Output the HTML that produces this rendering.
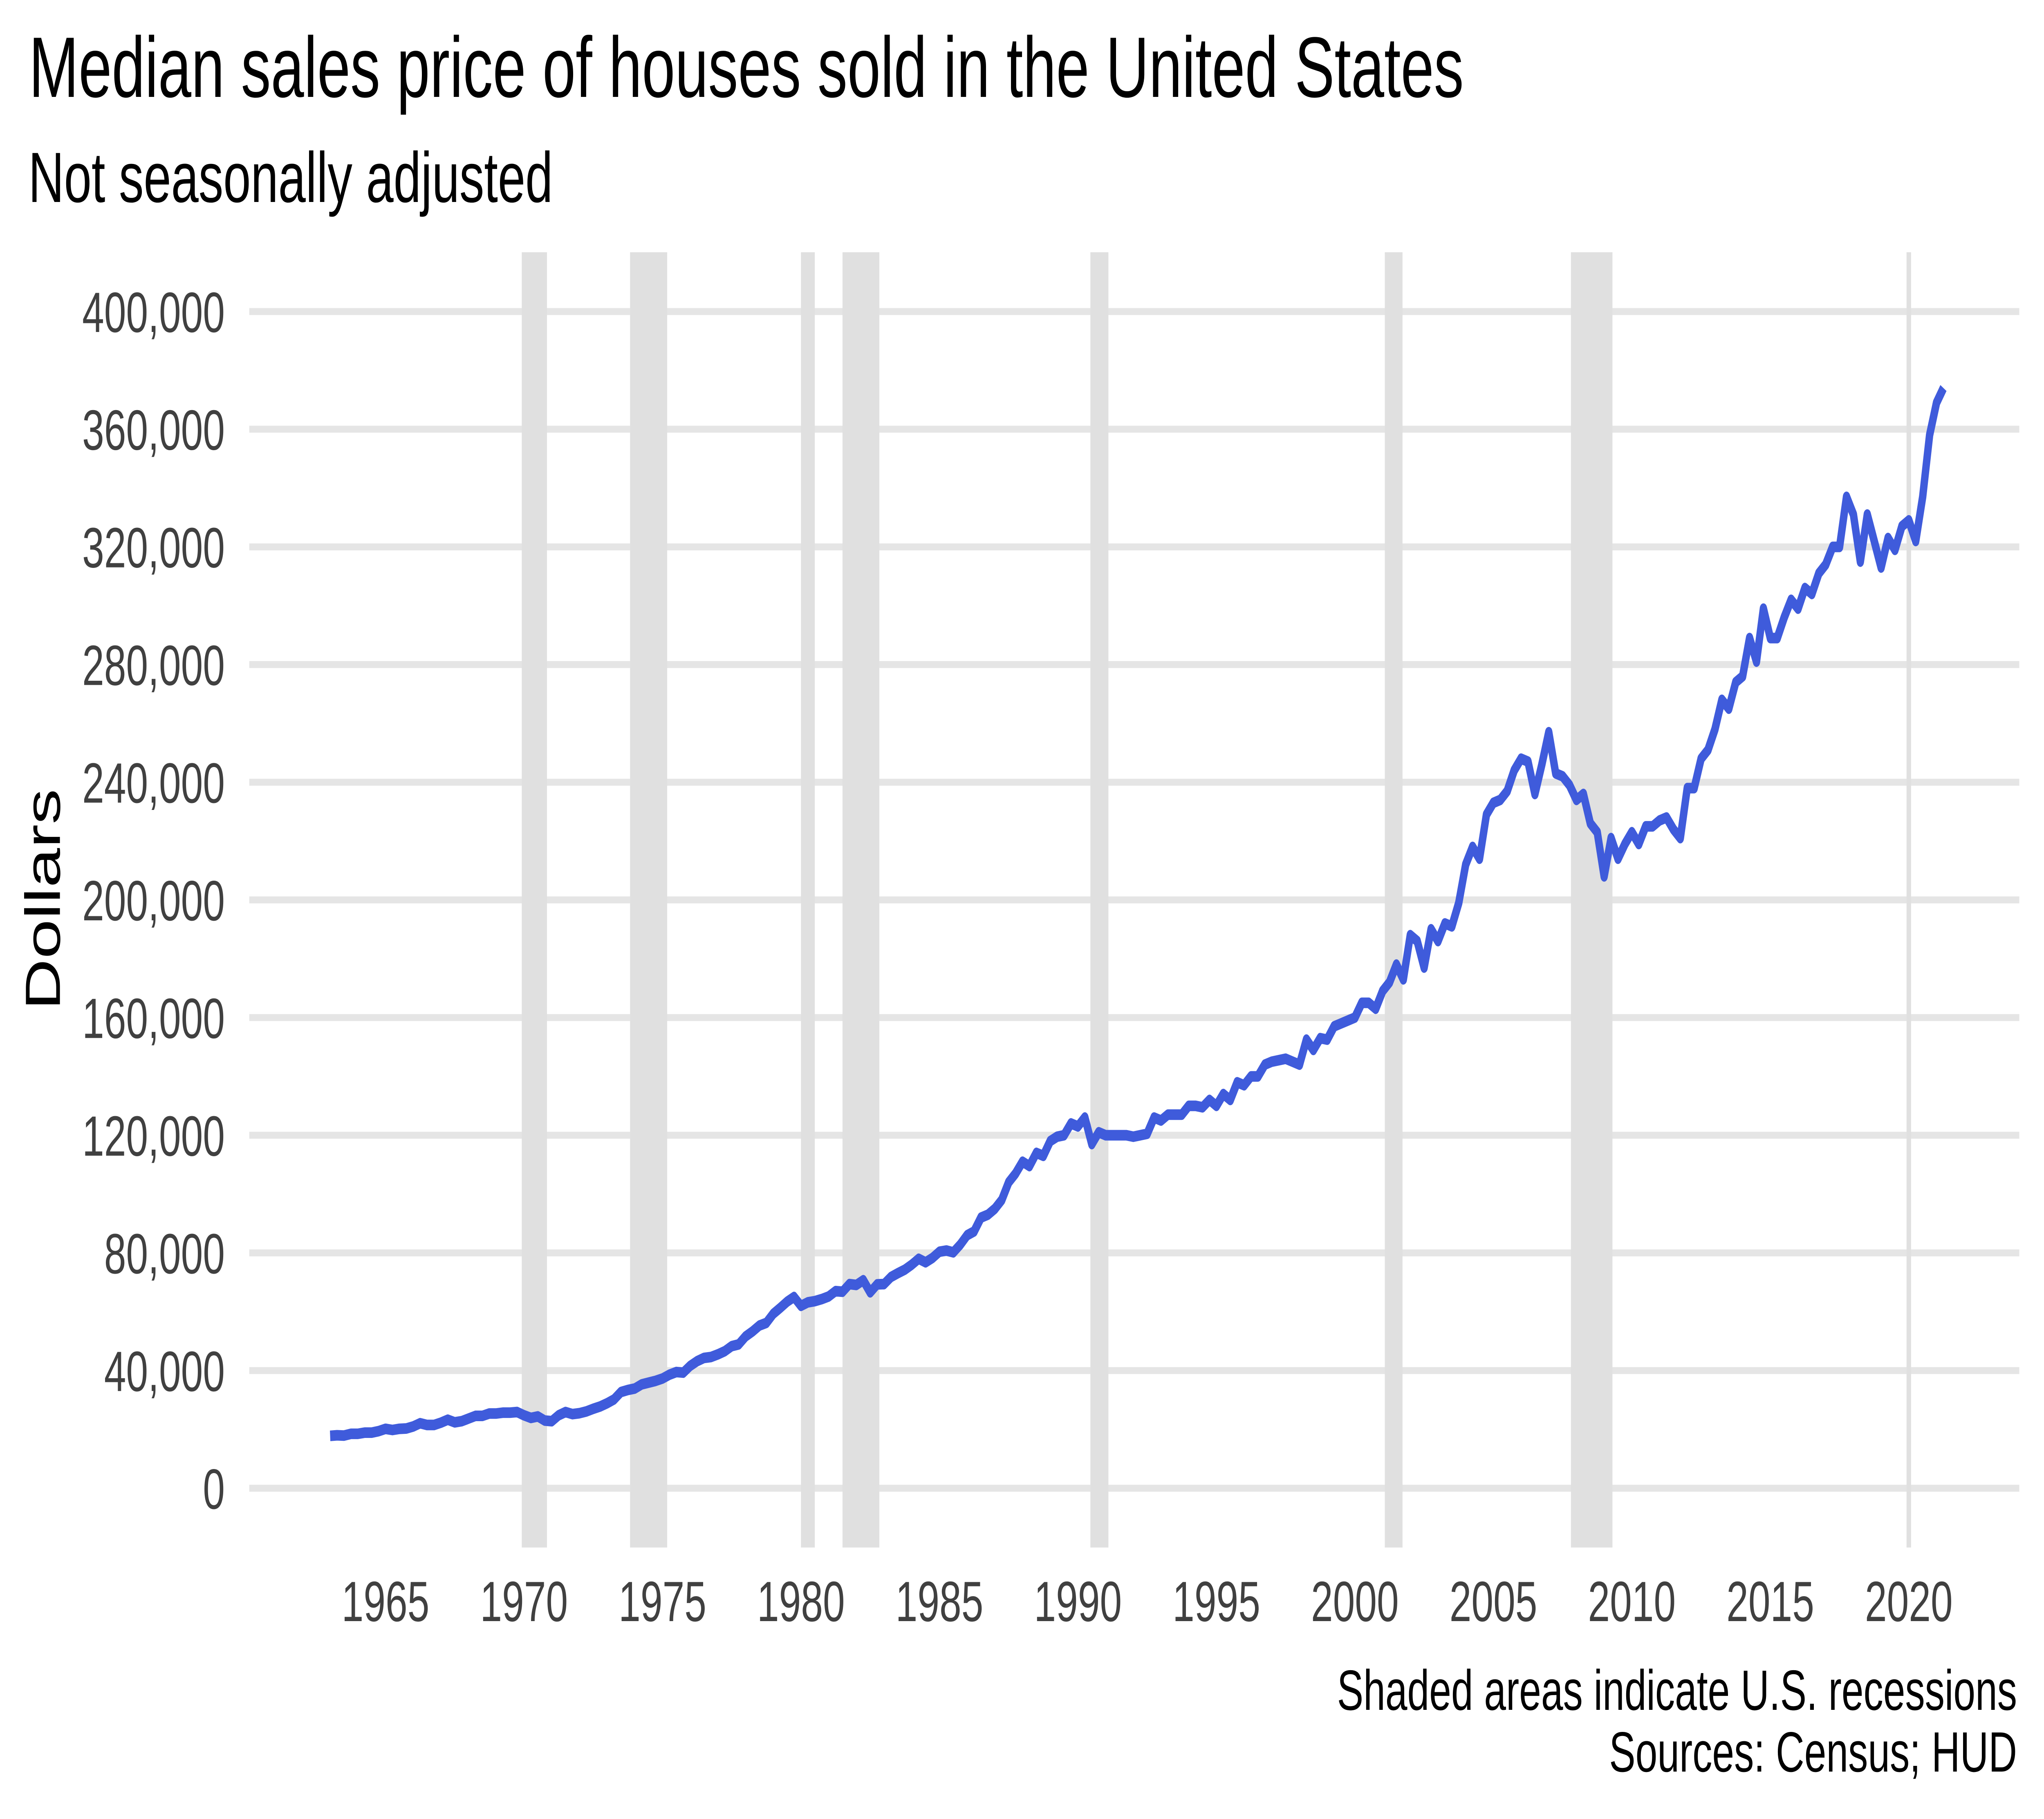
<!DOCTYPE html>
<html><head><meta charset="utf-8"><style>
html,body{margin:0;padding:0;background:#fff;width:100%;height:100%;overflow:hidden;}
svg{display:block;width:100vw;height:100vh;}
text{font-family:"Liberation Sans",Arial,sans-serif;}
</style></head><body>
<svg id="chart" xmlns="http://www.w3.org/2000/svg" viewBox="0 0 7200 4449" preserveAspectRatio="none">
<rect x="0" y="0" width="7200" height="4449" fill="#fff"/>
<text x="102" y="237" font-size="210" fill="#000">Median sales price of houses sold in the United States</text>
<text x="100" y="494" font-size="174" fill="#000">Not seasonally adjusted</text>
<text transform="translate(211,2200) rotate(-90)" text-anchor="middle" font-size="174" fill="#000">Dollars</text>
<g id="grid"></g>
<g id="bands"></g>
<g id="yticks"></g>
<g id="xticks"></g>
<g id="series"></g>
<text x="7105" y="4182" text-anchor="end" font-size="139" fill="#000">Shaded areas indicate U.S. recessions</text>
<text x="7105" y="4333" text-anchor="end" font-size="139" fill="#000">Sources: Census; HUD</text>
</svg>
<script>
const yTicks = [0,40000,80000,120000,160000,200000,240000,280000,320000,360000,400000];
const xTicks = [1965,1970,1975,1980,1985,1990,1995,2000,2005,2010,2015,2020];
const recessionStart = [1969.92,1973.83,1980.0,1981.5,1990.45,2001.08,2007.8];
const recessionEnd   = [1970.83,1975.17,1980.5,1982.83,1991.1,2001.72,2009.3];
const startYear = 1963.0;
const priceK = [
17.8,18.0,17.9,18.5, 18.5,18.9,18.9,19.4, 20.2,19.8,20.2,20.3, 21.0,22.1,21.5,21.5,
22.3,23.3,22.4,22.8, 23.7,24.6,24.6,25.4, 25.4,25.7,25.7,25.9, 24.8,23.9,24.4,23.0,
22.8,24.8,25.9,25.2, 25.5,26.1,27.0,27.8, 28.9,30.2,32.7,33.4, 33.9,35.3,35.9,36.5,
37.3,38.6,39.5,39.3, 41.6,43.2,44.3,44.6, 45.5,46.6,48.3,48.9, 51.6,53.3,55.3,56.2,
59.3,61.3,63.4,65.0, 62.0,63.2,63.6,64.3, 65.2,67.0,66.8,69.4, 69.1,70.7,66.6,69.3,
69.4,71.8,73.1,74.3, 76.0,78.0,76.8,78.3, 80.4,80.8,80.2,82.8, 86.0,87.3,92.0,93.0,
95.0,98.0,104.0,107.0, 111.0,109.5,114.0,113.0, 118.0,119.5,120.0,124.0, 123.0,126.0,117.0,121.0,
120.0,120.0,120.0,120.0, 119.5,120.0,120.5,126.0, 125.0,127.0,127.0,127.0, 130.0,130.0,129.5,132.0,
130.0,134.0,132.0,138.0, 137.0,140.0,140.0,144.0, 145.0,145.5,146.0,145.0, 144.0,152.5,149.0,153.0,
152.5,157.0,158.0,159.0, 160.0,165.0,165.0,163.0, 169.0,172.0,178.0,173.0, 188.0,186.0,177.0,190.0,
186.0,192.0,191.0,199.0, 212.0,218.0,214.0,229.0, 233.0,234.0,237.0,244.0, 248.0,247.0,236.0,246.0,
257.0,243.0,242.0,239.0, 234.0,236.0,226.0,223.0, 208.0,221.0,214.0,219.0, 223.0,219.0,225.0,225.0,
227.0,228.0,224.0,221.0, 238.0,238.0,248.0,251.0, 258.0,268.0,265.0,274.0, 276.0,289.0,281.0,299.0,
289.0,289.0,296.0,302.0, 299.0,306.0,304.0,311.0, 314.0,320.0,320.0,337.0, 331.0,315.0,331.0,322.0,
313.0,323.0,319.0,327.0, 329.0,322.0,337.0,358.0, 369.0,374.0
];

const NS = 'http://www.w3.org/2000/svg';
const X0 = 878, X1 = 7113, TOP = 617, BOT = 3785;
function xs(yr){ return 1358 + (yr - 1965) * 97.56; }
function ys(v){ return 3640 - v * 0.007195; }
function mk(tag, attrs, parent){
  const el = document.createElementNS(NS, tag);
  for (const k in attrs) el.setAttribute(k, attrs[k]);
  parent.appendChild(el);
  return el;
}
const grid = document.getElementById('grid');
yTicks.forEach(function(v){
  const l = mk('line', {x1:X0, x2:X1, y1:ys(v), y2:ys(v), stroke:'#e5e5e5', 'stroke-width':17}, grid);
  
  
});
const vl = mk('line', {x1:xs(2020), x2:xs(2020), y1:TOP, y2:BOT, stroke:'#e0e0e0', 'stroke-width':16}, grid);



const bands = document.getElementById('bands');
recessionStart.forEach(function(s, i){
  const r = mk('rect', {x:xs(s), y:TOP, width:xs(recessionEnd[i]) - xs(s), height:BOT - TOP, fill:'#e0e0e0'}, bands);
  
  
});

const yt = document.getElementById('yticks');
yTicks.forEach(function(v){
  const t = mk('text', {x:792, y:ys(v) + 50, 'text-anchor':'end', 'font-size':139, fill:'#404040'}, yt);
  t.textContent = v.toLocaleString('en-US');
  
  
});
const xt = document.getElementById('xticks');
xTicks.forEach(function(yr){
  const t = mk('text', {x:xs(yr), y:3965, 'text-anchor':'middle', 'font-size':139, fill:'#404040'}, xt);
  t.textContent = String(yr);
  
  
});

const series = document.getElementById('series');
let d = '';
priceK.forEach(function(v, i){
  const yr = startYear + i * 0.25;
  d += (i ? 'L' : 'M') + xs(yr).toFixed(1) + ',' + ys(v * 1000).toFixed(1);
});
const p = mk('path', {d:d, fill:'none', stroke:'#3f5bdb', 'stroke-width':26, 'stroke-linejoin':'round'}, series);


</script>
</body></html>
